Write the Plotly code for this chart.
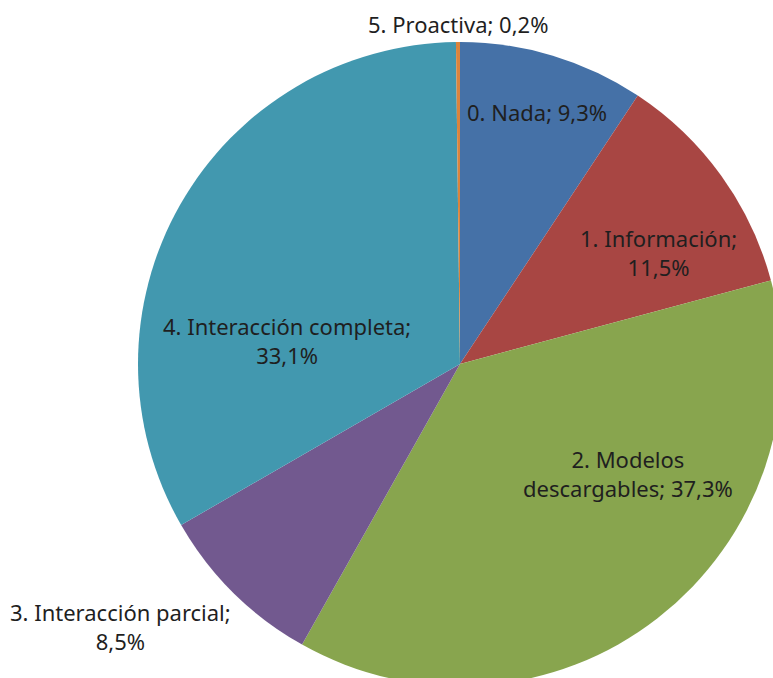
import plotly.graph_objects as go

categories = ["0. Nada", "1. Información", "2. Modelos descargables",
              "3. Interacción parcial", "4. Interacción completa", "5. Proactiva"]
values = [9.3, 11.5, 37.3, 8.5, 33.1, 0.2]
colors = ["#4571A7", "#A84643", "#88A54E", "#72598F", "#4298AF", "#DB843D"]

# label text layout (line break style) and label positions relative to pie centre (px)
label_breaks = ["; ", ";<br>", "<br>", ";<br>", ";<br>", "; "]
label_dx = [77, 198, 168, -340, -173, -2]
label_dy = [-252, -112, 110, 262, -24, -340]

W, H = 920, 728
T, B = 42, 42
CX, CY = W / 2, T + (H - T - B) / 2


def fmt(cat, val, brk):
    num = f"{val:.1f}".replace(".", ",") + "%"
    if cat.startswith("2."):
        parts = cat.split(" ", 2)
        return parts[0] + " " + parts[1] + brk + parts[2] + "; " + num
    return cat + brk + num


fig = go.Figure(go.Pie(
    labels=categories,
    values=values,
    sort=False,
    direction="clockwise",
    rotation=0,
    marker=dict(colors=colors, line=dict(width=0)),
    textinfo="none",
    hoverinfo="label+percent",
    showlegend=False,
))

annotations = []
for cat, val, brk, dx, dy in zip(categories, values, label_breaks, label_dx, label_dy):
    annotations.append(dict(
        text=fmt(cat, val, brk),
        x=(CX + dx) / W,
        y=(H - B - (CY + dy)) / (H - T - B),
        xref="paper", yref="paper",
        showarrow=False,
        align="center",
        xanchor="center", yanchor="middle",
        font=dict(family="Noto Sans", size=22, color="#1F1F1F"),
    ))

fig.update_layout(
    width=W, height=H,
    margin=dict(l=0, r=0, t=T, b=B, pad=0),
    paper_bgcolor="white",
    plot_bgcolor="white",
    annotations=annotations,
)

fig.write_html("out.html", post_script="document.body.style.overflow='hidden';document.documentElement.style.overflow='hidden';document.body.style.margin='0';")
